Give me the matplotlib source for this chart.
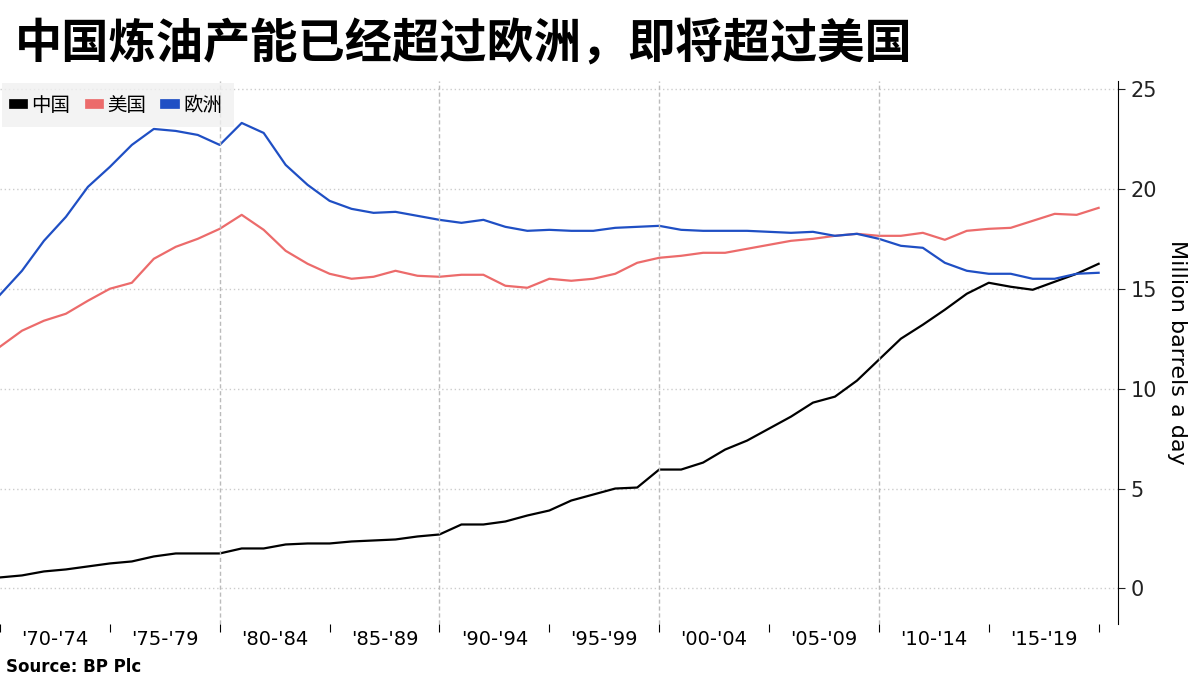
import matplotlib.pyplot as plt
from matplotlib import font_manager
import numpy as np

cjk = [f.name for f in font_manager.fontManager.ttflist if 'CJK' in f.name]
cjk = sorted(set(cjk), key=lambda n: ('SC' not in n, n))
plt.rcParams['font.family'] = ['DejaVu Sans'] + cjk[:1]
cn = cjk[0] if cjk else 'DejaVu Sans'

years = np.arange(1970, 2021)
china = [0.55, 0.65, 0.85, 0.95, 1.1, 1.25, 1.35, 1.6, 1.75, 1.75,
         1.75, 2.0, 2.0, 2.2, 2.25, 2.25, 2.35, 2.4, 2.45, 2.6,
         2.7, 3.2, 3.2, 3.35, 3.65, 3.9, 4.4, 4.7, 5.0, 5.05,
         5.95, 5.95, 6.3, 6.95, 7.4, 8.0, 8.6, 9.3, 9.6, 10.4,
         11.45, 12.5, 13.2, 13.95, 14.75, 15.3, 15.1, 14.95, 15.35, 15.75, 16.25]
usa = [12.1, 12.9, 13.4, 13.75, 14.4, 15.0, 15.3, 16.5, 17.1, 17.5,
       18.0, 18.7, 17.95, 16.9, 16.25, 15.75, 15.5, 15.6, 15.9, 15.65,
       15.6, 15.7, 15.7, 15.15, 15.05, 15.5, 15.4, 15.5, 15.75, 16.3,
       16.55, 16.65, 16.8, 16.8, 17.0, 17.2, 17.4, 17.5, 17.65, 17.75,
       17.65, 17.65, 17.8, 17.45, 17.9, 18.0, 18.05, 18.4, 18.75, 18.7, 19.05]
europe = [14.7, 15.9, 17.4, 18.6, 20.1, 21.1, 22.2, 23.0, 22.9, 22.7,
          22.2, 23.3, 22.8, 21.2, 20.2, 19.4, 19.0, 18.8, 18.85, 18.65,
          18.45, 18.3, 18.45, 18.1, 17.9, 17.95, 17.9, 17.9, 18.05, 18.1,
          18.15, 17.95, 17.9, 17.9, 17.9, 17.85, 17.8, 17.85, 17.65, 17.75,
          17.5, 17.15, 17.05, 16.3, 15.9, 15.75, 15.75, 15.5, 15.5, 15.75, 15.8]
xlabels = ["'70-'74", "'75-'79", "'80-'84", "'85-'89", "'90-'94",
           "'95-'99", "'00-'04", "'05-'09", "'10-'14", "'15-'19"]

fig = plt.figure(figsize=(12, 6.75), dpi=100)
ax = fig.add_axes([0.0, 0.075, 0.932, 0.805])

ax.plot(years, china, color='black', lw=1.6, label='中国')
ax.plot(years, usa, color='#ec6b6b', lw=1.6, label='美国')
ax.plot(years, europe, color='#1f4fc4', lw=1.6, label='欧洲')

ax.set_xlim(1970, 2020.9)
ax.set_ylim(-1.8, 25.4)
ax.yaxis.tick_right()
ax.yaxis.set_label_position('right')
ax.set_yticks([0, 5, 10, 15, 20, 25])
ax.tick_params(axis='y', labelsize=15, length=5, colors='#222222')
ax.set_ylabel('Million barrels a day', fontsize=16, rotation=270, labelpad=22)

ax.set_xticks(np.arange(1970, 2021, 5))
ax.set_xticklabels([])
ax.set_xticks(np.arange(1972.5, 2020, 5), minor=True)
ax.set_xticklabels(xlabels, minor=True, fontsize=14)
ax.tick_params(axis='x', which='major', length=6)
ax.tick_params(axis='x', which='minor', length=0, pad=4)

for d in range(1980, 2020, 10):
    ax.axvline(d, color='#bbbbbb', lw=1, ls=(0, (3, 2)))
ax.grid(axis='y', color='#cccccc', lw=1, ls=(0, (1, 2)))
for s in ['top', 'left', 'bottom']:
    ax.spines[s].set_visible(False)

leg = ax.legend(loc='upper left', ncol=3, frameon=True,
                prop={'family': cn, 'size': 14},
                handlelength=0.5, handleheight=0.5, handletextpad=0.4,
                columnspacing=1.0, borderaxespad=0.1, borderpad=0.6,
                fancybox=False)
leg.get_frame().set_facecolor('#f0f0f0')
leg.get_frame().set_edgecolor('none')
for h in leg.legend_handles:
    h.set_linewidth(7)

fig.text(0.012, 0.935, '中国炼油产能已经超过欧洲，即将超过美国', fontsize=34,
         fontweight='bold', va='center', family=cn)
fig.text(0.005, 0.005, 'Source: BP Plc', fontsize=12, fontweight='bold')

fig.savefig('out.png', dpi=100)
